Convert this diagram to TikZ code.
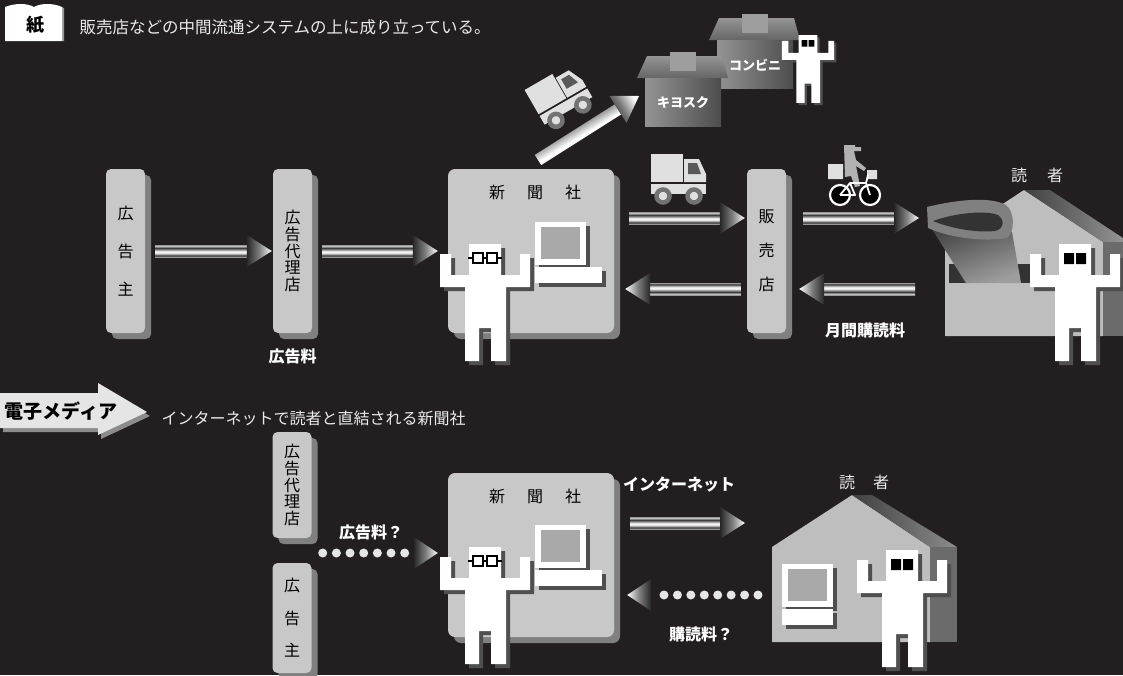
\documentclass[tikz,border=0pt]{standalone}
\usepackage{fontspec}
\setmainfont{Noto Sans CJK JP}
\usetikzlibrary{calc,shadows}

\definecolor{bg}{HTML}{231F20}
\definecolor{panel}{HTML}{C8C8C8}
\definecolor{boxshade}{HTML}{808080}
\definecolor{figshade}{HTML}{4F4F4F}
\definecolor{screen}{HTML}{A9A9A9}
\definecolor{housewall}{HTML}{BEBEBE}
\definecolor{houseside}{HTML}{6B6B6B}
\definecolor{slot}{HTML}{333333}
\definecolor{dotc}{HTML}{E6E6E6}
\definecolor{cargo}{HTML}{E0E0E0}

% striped shaft and shaded head of the big arrows
\pgfdeclareverticalshading{tube}{100bp}{color(0bp)=(black!40); color(25bp)=(black!40); color(31bp)=(black!78); color(40bp)=(black!15); color(48bp)=(white); color(56bp)=(black!45); color(63bp)=(black!78); color(70bp)=(black!22); color(75bp)=(black!40); color(100bp)=(black!40)}
\pgfdeclarehorizontalshading{tiphead}{100bp}{color(0bp)=(black!85); color(25bp)=(black!85); color(50bp)=(black!50); color(75bp)=(white); color(100bp)=(white)}

\newcommand\guyoutline{(-16,0) -- (16,0) -- (16,31) -- (35,31) -- (35,10) -- (45,10) -- (45,43) -- (21,43) -- (21,117) -- (6,117) -- (6,84) -- (-6,84) -- (-6,117) -- (-20,117) -- (-20,43) -- (-45,43) -- (-45,10) -- (-34,10) -- (-34,31) -- (-16,31) -- cycle}

% #1 shading angle, #2 tail, #3 tip
\newcommand\tubearrow[3]{%
  \path #2 coordinate (t0) #3 coordinate (t1);
  \path ($(t1)!25pt!(t0)$) coordinate (hb);
  \shade[shading=tube,shading angle=#1] ($(t0)!6pt!90:(hb)$) -- ($(t0)!6pt!-90:(hb)$) -- ($(hb)!6pt!90:(t0)$) -- ($(hb)!6pt!-90:(t0)$) -- cycle;
  \shade[shading=tiphead,shading angle=#1] ($(hb)!16pt!90:(t1)$) -- (t1) -- ($(hb)!16pt!-90:(t1)$) -- cycle;}

% #1 shading angle, #2 gaps, #3 first dot, #4 last dot, #5 tip
\newcommand\dotarrow[5]{%
  \path #3 coordinate (t0) #4 coordinate (t1) #5 coordinate (t2);
  \path ($(t2)!24pt!(t1)$) coordinate (hb);
  \foreach \k in {0,...,#2} \fill[dotc] ($(t0)!\k/#2!(t1)$) circle (4.5);
  \shade[shading=tiphead,shading angle=#1] ($(hb)!16pt!90:(t2)$) -- (t2) -- ($(hb)!16pt!-90:(t2)$) -- cycle;}

\tikzset{
  guy/.pic={\fill[figshade,shift={(4,4)}] \guyoutline; \fill[white] \guyoutline;},
  reader/.pic={\pic[transform shape]{guy}; \fill[black] (-11,9) rectangle (-1,20) (1,9) rectangle (11,20);},
  staff/.pic={\pic[transform shape]{guy}; \draw[black,line width=1.6pt] (-17,14) -- (17,14);
    \filldraw[fill=white,draw=black,line width=1.6pt] (-12,9) rectangle (-2,19) (2,9) rectangle (12,19);},
  pics/pc/.style={code={
    \fill[figshade] (4,4) rectangle (55,47); \fill[white] (0,0) rectangle (51,43); \fill[screen] (6,5) rectangle (45,37);
    \fill[figshade] (4,49) rectangle (#1+4,65); \fill[white] (0,45) rectangle (#1,61);}},
  pics/stand/.style={code={
    \shade[top color=black!42,bottom color=black!60] (-8,0) -- (83,0) -- (77,-22) -- (2,-22) -- cycle;
    \fill[black!38] (25,-26) rectangle (51,-7);
    \shade[left color=black!42,right color=black!70] (0,0) rectangle (76,48);
    \node[text=white,font=\bfseries\fontsize{13}{15}\selectfont] at (38,25) {#1};}},
  truck/.pic={
    \fill[cargo] (-27,-26) rectangle (5,2);
    \fill[cargo] (6,-21) -- (21,-21) -- (28,-6) -- (28,2) -- (6,2) -- cycle;
    \fill[black!65] (10,-17) -- (19,-17) -- (23,-6) -- (10,-6) -- cycle;
    \fill[cargo] (-27,4) rectangle (28,14);
    \filldraw[fill=cargo,draw=black!55,line width=4.5pt] (-15,16) circle (6.5) (16,16) circle (6.5);}
}

\begin{document}
\begin{tikzpicture}[x=1pt,y=-1pt,
  pillar/.style={fill=panel,rounded corners=5pt,minimum width=39pt,inner sep=0pt,align=center,font=\fontsize{16}{16.6}\selectfont,drop shadow={shadow xshift=6pt,shadow yshift=-6pt,fill=boxshade,opacity=1}},
  office/.style={fill=panel,rounded corners=7pt,minimum width=166pt,minimum height=164pt,drop shadow={shadow xshift=6pt,shadow yshift=-6pt,fill=boxshade,opacity=1}},
  tag/.style={text=white,font=\bfseries\fontsize{16}{18}\selectfont},
  caption/.style={text=black!8,font=\fontsize{16}{18}\selectfont},
  dark/.style={text=black,font=\fontsize{16}{18}\selectfont}]
\useasboundingbox (0,0) rectangle (1123,675);
\fill[bg] (0,0) rectangle (1123,675);

% headings
\fill[black!40] (62,7) -- (64,8) -- (64,41) -- (62,41) -- cycle;
\fill[white] (5,41) -- (5,7) .. controls (15,3) and (27,3) .. (34,7) .. controls (41,3) and (53,3) .. (62,7) -- (62,41) -- cycle;
\node[text=black,font=\bfseries\fontsize{18}{20}\selectfont] (paperhead) at (35,25) {紙};
\node[caption,anchor=west,font=\fontsize{16.5}{18}\selectfont] at (76,27) {販売店などの中間流通システムの上に成り立っている。};
\fill[black!45] (3,397) -- (101,397) -- (101,387) -- (150,416) -- (101,439) -- (101,432) -- (3,432) -- cycle;
\fill[black!10] (0,393) -- (98,393) -- (98,383) -- (147,412) -- (98,435) -- (98,428) -- (0,428) -- cycle;
\node[text=black,font=\bfseries\fontsize{19}{21}\selectfont] (nethead) at (61,411) {電子メディア};
\node[caption,anchor=west] at (158,418) {インターネットで読者と直結される新聞社};

% paper route
\node[pillar,minimum height=164pt,font=\fontsize{16}{38}\selectfont] (adv) at (125.5,251) {広\\告\\主};
\node[pillar,minimum height=164pt] (agency) at (292.5,251) {広\\告\\代\\理\\店};
\node[office] (paper) at (531,251) {};
\node[dark] at ($(paper.north)+(4,24)$) {新\hspace{22pt}聞\hspace{22pt}社};
\node[pillar,minimum height=164pt,font=\fontsize{16}{34}\selectfont] (shop) at (766.5,251) {販\\売\\店};
\pic at (535,222) {pc=67};
\pic at (485,244) {staff};
\node[tag] at ($(agency.south)+(0,23)$) {広告料};
\node[tag] at (865,330) {月間購読料};

% reader's house with the paper in the box
\coordinate (home) at (927,251);
\fill[housewall] (945,242) -- (1024,190) -- (1103,242) -- (1103,336) -- (945,336) -- cycle;
\shade[left color=black!75,right color=black!40] (1024,190) -- (1050,190) -- (1129,242) -- (1103,242) -- cycle;
\fill[houseside] (1103,242) rectangle (1129,336);
\fill[slot] (949,264) rectangle (1030,283);
\shade[left color=black!72,right color=black!38,shading angle=20] (930,226) -- (966,283) -- (1021,283) -- (1012,232) -- cycle;
\fill[black!50] (927,207) .. controls (955,200) and (990,196) .. (1006,205) .. controls (1015,212) and (1015,232) .. (1007,238) .. controls (985,242) and (950,238) .. (928,228) -- cycle;
\fill[slot] (933,221) .. controls (955,213) and (985,210) .. (998,215) .. controls (1005,220) and (1004,229) .. (995,231) .. controls (975,233) and (950,228) .. (933,221) -- cycle;
\pic at (1075,244) {reader};
\node[caption] at (1037,175) {読\hspace{20pt}者};

% kiosk and convenience store
\coordinate (konbini) at (717,40);
\coordinate (kiosk) at (645,78);
\pic at (konbini) {stand=コンビニ};
\pic[scale=0.58] at (808,35) {reader};
\pic at (kiosk) {stand=キヨスク};
\coordinate (lorry) at (561,99);
\pic[rotate=30] at (lorry) {truck};
\tubearrow{31}{($(lorry)+(-23,61)$)}{($(kiosk)+(-6,18)$)}

% delivery truck and courier
\pic at (678,180) {truck};
\fill[cargo] (828,164) rectangle (843,179) (867,170) rectangle (877,179);
\fill[black!30] (844,145) -- (855,145) -- (855,147) -- (861,147) -- (861,151) -- (854,151) -- (856,160) -- (866,168) -- (864,171) -- (856,166) -- (860,186) -- (855,187) -- (851,176) -- (845,177) -- cycle;
\filldraw[fill=black,draw=white,line width=2.2pt] (840,195) circle (10) (870,195) circle (10);
\draw[white,line width=1.8pt,line join=round] (840,195) -- (850,183) -- (866,183) -- (870,195) (850,183) -- (855,195) -- (840,195) (866,183) -- (868,175);

\tubearrow{0}{($(adv.east)+(10,0)$)}{($(agency.west)+(-1,0)$)}
\tubearrow{0}{($(agency.east)+(10,0)$)}{($(paper.west)+(-10,0)$)}
\tubearrow{0}{($(paper.east)+(15,-33)$)}{($(shop.west)+(-2,-33)$)}
\tubearrow{180}{($(shop.west)+(-6,38)$)}{($(paper.east)+(11,38)$)}
\tubearrow{0}{($(shop.east)+(17,-33)$)}{($(home)+(-8,-33)$)}
\tubearrow{180}{($(home)+(-12,38)$)}{($(shop.east)+(13,38)$)}

% internet route
\node[pillar,minimum height=106pt] (netagency) at (292,485) {広\\告\\代\\理\\店};
\node[pillar,minimum height=110pt,font=\fontsize{16}{32.5}\selectfont] (netadv) at (292,618) {広\\告\\主};
\node[office] (netpaper) at (531,555) {};
\node[dark] at ($(netpaper.north)+(4,24)$) {新\hspace{22pt}聞\hspace{22pt}社};
\pic at (535,525) {pc=67};
\pic at (485,547) {staff};

\coordinate (nethome) at (772,595);
\fill[housewall] (772,547) -- (852,495) -- (930,547) -- (930,642) -- (772,642) -- cycle;
\shade[left color=black!75,right color=black!45] (852,495) -- (872,495) -- (957,547) -- (930,547) -- cycle;
\fill[houseside] (930,547) rectangle (957,642);
\pic at (782,564) {pc=51};
\pic at (902,550) {reader};
\node[caption] at (864,482) {読\hspace{18pt}者};

\dotarrow{0}{6}{($(netagency.east)+(11,68)$)}{($(netagency.east)+(93,68)$)}{($(netpaper.west)+(-10,-2)$)}
\tubearrow{0}{($(netpaper.east)+(16,-32)$)}{($(nethome)+(-27,-72)$)}
\dotarrow{180}{7}{($(nethome)+(-14,0)$)}{($(nethome)+(-108,0)$)}{($(netpaper.east)+(13,40)$)}
\node[tag] at (371,532) {広告料？};
\node[tag] at (679,485) {インターネット};
\node[tag] at (701,634) {購読料？};
\end{tikzpicture}
\end{document}
